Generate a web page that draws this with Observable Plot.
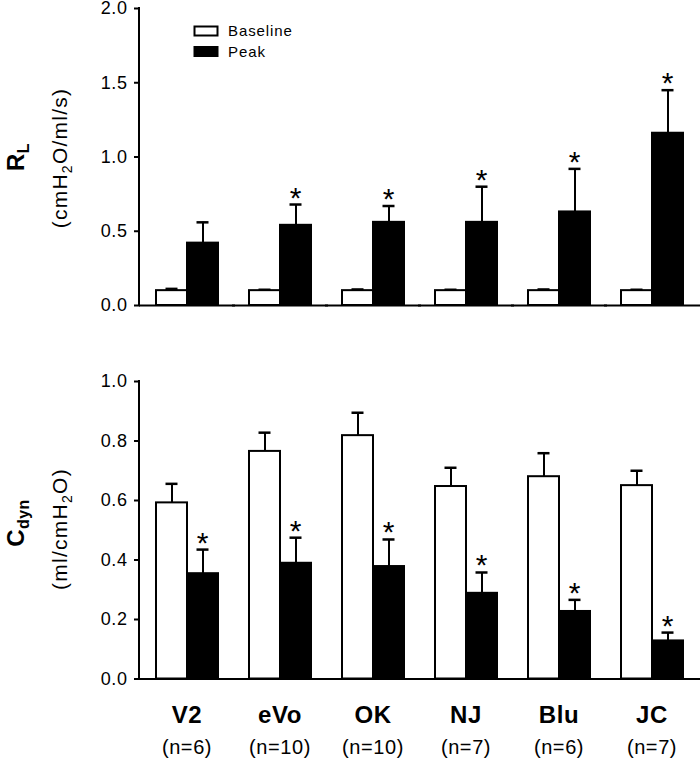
<!DOCTYPE html>
<html>
<head>
<meta charset="utf-8">
<script src="https://cdn.jsdelivr.net/npm/d3@7"></script>
<script src="https://cdn.jsdelivr.net/npm/@observablehq/plot@0.6"></script>
<style>
  body { margin: 0; background: #fff; }
  #chart { position: relative; width: 700px; height: 760px; }
  #chart svg { display: block; }
</style>
</head>
<body>
<div id="chart"></div>
<script>
// ---------- data ----------
const categories = ["V2", "eVo", "OK", "NJ", "Blu", "JC"];
const nLabels = ["(n=6)", "(n=10)", "(n=10)", "(n=7)", "(n=6)", "(n=7)"];
const series = ["Baseline", "Peak"];

// Lung resistance R_L (cmH2O/ml/s)
const rlBaseline    = [0.10, 0.10, 0.10, 0.10, 0.10, 0.10];
const rlBaselineErr = [0.012, 0.006, 0.008, 0.006, 0.008, 0.006];
const rlPeak        = [0.42, 0.54, 0.56, 0.56, 0.63, 1.16];
const rlPeakErr     = [0.14, 0.14, 0.11, 0.24, 0.29, 0.29];
const rlPeakSig     = [false, true, true, true, true, true];

// Dynamic compliance C_dyn (ml/cmH2O)
const cdBaseline    = [0.592, 0.765, 0.818, 0.647, 0.680, 0.650];
const cdBaselineErr = [0.064, 0.063, 0.077, 0.063, 0.079, 0.050];
const cdPeak        = [0.354, 0.389, 0.378, 0.288, 0.227, 0.128];
const cdPeakErr     = [0.081, 0.086, 0.091, 0.070, 0.039, 0.028];
const cdPeakSig     = [true, true, true, true, true, true];

const rlTicks = [0, 0.5, 1.0, 1.5, 2.0];
const cdTicks = [0, 0.2, 0.4, 0.6, 0.8, 1.0];

// ---------- helpers ----------
function makeRows(base, baseErr, peak, peakErr, peakSig) {
  const rows = [];
  categories.forEach((c, i) => {
    rows.push({cat: c, series: "Baseline", value: base[i], err: baseErr[i], sig: false});
    rows.push({cat: c, series: "Peak", value: peak[i], err: peakErr[i], sig: peakSig[i]});
  });
  return rows;
}

const FONT = '"Liberation Sans", Arial, Helvetica, sans-serif';
const ML = 139, MR = 2, W = 700;

function panel({rows, yDomain, yTicks, height, marginTop, marginBottom, withLabels}) {
  const marks = [
    Plot.barY(rows, {fx: "cat", x: "series", y: "value", fill: "series", stroke: "black", strokeWidth: 2}),
    Plot.ruleX(rows, {fx: "cat", x: "series", y1: "value", y2: d => d.value + d.err, stroke: "black", strokeWidth: 2}),
    Plot.tickY(rows, {fx: "cat", x: "series", y: d => d.value + d.err, stroke: "black", strokeWidth: 2.5, insetLeft: 9.5, insetRight: 9.5}),
    Plot.text(rows.filter(d => d.sig), {fx: "cat", x: "series", y: d => d.value + d.err, text: () => "*", fontSize: 30, lineAnchor: "bottom", dy: 3, fill: "black"}),
    Plot.ruleY([0], {stroke: "black", strokeWidth: 2, insetLeft: -1, insetRight: -2}),
    Plot.axisY({ticks: yTicks, tickFormat: d3.format(".1f"), tickSize: 6, tickPadding: 7, fontSize: 18, strokeWidth: 2, label: null})
  ];
  if (withLabels) {
    marks.push(Plot.text(categories, {fx: d => d, text: d => d, frameAnchor: "bottom", lineAnchor: "middle", dy: 36, fontSize: 24, fontWeight: "bold", fill: "black"}));
    marks.push(Plot.text(categories, {fx: d => d, text: (d, i) => nLabels[i], frameAnchor: "bottom", lineAnchor: "middle", dy: 69, fontSize: 20, fill: "black"}));
  }
  const plot = Plot.plot({
    width: W,
    height,
    marginLeft: ML,
    marginRight: MR,
    marginTop,
    marginBottom,
    style: {fontFamily: FONT, letterSpacing: "0.06em", color: "black", background: "white", overflow: "visible"},
    fx: {domain: categories, padding: 0, axis: null},
    x: {domain: series, paddingInner: 0, paddingOuter: 0.5, axis: null},
    y: {domain: yDomain},
    color: {domain: series, range: ["white", "black"]},
    marks
  });
  // y-axis domain line
  const ys = plot.scale("y");
  d3.select(plot).append("line")
    .attr("x1", ML).attr("x2", ML)
    .attr("y1", ys.apply(yDomain[1]) - 1).attr("y2", ys.apply(0) + 1)
    .attr("stroke", "black").attr("stroke-width", 2);
  return plot;
}

function yTitle(svg, {x1, x2, cy1, cy2, main, sub, unitParts}) {
  const t = svg.append("text")
    .attr("transform", `translate(${x1},${cy1}) rotate(-90)`)
    .attr("text-anchor", "middle")
    .attr("font-family", FONT)
    .attr("font-weight", "bold")
    .attr("font-size", 24)
    .attr("letter-spacing", "0.02em")
    .attr("fill", "black");
  t.append("tspan").text(main);
  t.append("tspan").attr("font-size", 16).attr("dy", 5).text(sub);
  const u = svg.append("text")
    .attr("transform", `translate(${x2},${cy2}) rotate(-90)`)
    .attr("text-anchor", "middle")
    .attr("font-family", FONT)
    .attr("font-size", 21)
    .attr("letter-spacing", "0.06em")
    .attr("fill", "black");
  let prevSub = false;
  unitParts.forEach(([txt, isSub]) => {
    const s = u.append("tspan").text(txt);
    if (isSub) s.attr("font-size", 14).attr("dy", 5);
    else if (prevSub) s.attr("dy", -5);
    prevSub = isSub;
  });
}

// ---------- build ----------
const chart = d3.select("#chart");

const topPlot = panel({
  rows: makeRows(rlBaseline, rlBaselineErr, rlPeak, rlPeakErr, rlPeakSig),
  yDomain: [0, 2], yTicks: rlTicks, height: 320, marginTop: 8, marginBottom: 15, withLabels: false
});
chart.node().appendChild(topPlot);

const bottomPlot = panel({
  rows: makeRows(cdBaseline, cdBaselineErr, cdPeak, cdPeakErr, cdPeakSig),
  yDomain: [0, 1], yTicks: cdTicks, height: 440, marginTop: 61, marginBottom: 81.5, withLabels: true
});
chart.node().appendChild(bottomPlot);

// y-axis titles
yTitle(d3.select(topPlot), {x1: 24, x2: 67, cy1: 157, cy2: 158, main: "R", sub: "L",
  unitParts: [["(cmH", false], ["2", true], ["O/ml/s)", false]]});
yTitle(d3.select(bottomPlot), {x1: 24, x2: 67, cy1: 203, cy2: 209, main: "C", sub: "dyn",
  unitParts: [["(ml/cmH", false], ["2", true], ["O)", false]]});

// legend (top panel)
const lg = d3.select(topPlot).append("g").attr("font-family", FONT).attr("font-size", 15)
  .attr("text-anchor", "start");
series.forEach((s, i) => {
  const y = 31 + i * 20.5;
  lg.append("rect").attr("x", 194.5).attr("y", y - 4.5).attr("width", 23).attr("height", 9)
    .attr("fill", s === "Peak" ? "black" : "white").attr("stroke", "black").attr("stroke-width", 2);
  lg.append("text").attr("x", 228).attr("y", y).attr("dy", "0.35em")
    .attr("letter-spacing", "0.06em").attr("fill", "black").text(s);
});
</script>
</body>
</html>
